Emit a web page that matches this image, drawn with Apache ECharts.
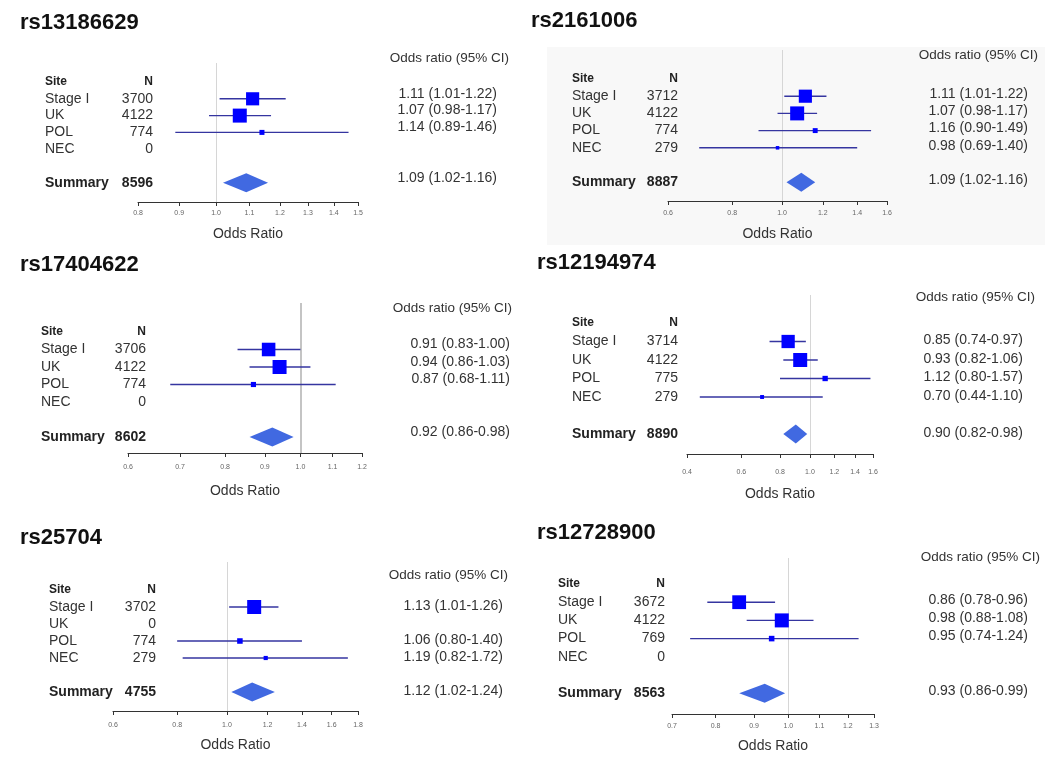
<!DOCTYPE html>
<html><head><meta charset="utf-8">
<script src="https://cdn.jsdelivr.net/npm/echarts@6/dist/echarts.min.js"></script>
<style>html,body{margin:0;padding:0;background:#fff}#c{width:1050px;height:768px}</style>
</head><body><div id="c"></div>
<script>
// ---------------- data ----------------
const snpTitles = ['rs13186629','rs2161006','rs17404622','rs12194974','rs25704','rs12728900'];
const siteNames = ['Stage I','UK','POL','NEC'];
const nValues = [
  [3700,4122,774,0],
  [3712,4122,774,279],
  [3706,4122,774,0],
  [3714,4122,775,279],
  [3702,0,774,279],
  [3672,4122,769,0]
];
const summaryN = [8596,8887,8602,8890,4755,8563];
const orValues = [
  [1.11,1.07,1.14,null],
  [1.11,1.07,1.16,0.98],
  [0.91,0.94,0.87,null],
  [0.85,0.93,1.12,0.70],
  [1.13,null,1.06,1.19],
  [0.86,0.98,0.95,null]
];
const ciLower = [
  [1.01,0.98,0.89,null],
  [1.01,0.98,0.90,0.69],
  [0.83,0.86,0.68,null],
  [0.74,0.82,0.80,0.44],
  [1.01,null,0.80,0.82],
  [0.78,0.88,0.74,null]
];
const ciUpper = [
  [1.22,1.17,1.46,null],
  [1.22,1.17,1.49,1.40],
  [1.00,1.03,1.11,null],
  [0.97,1.06,1.57,1.10],
  [1.26,null,1.40,1.72],
  [0.96,1.08,1.24,null]
];
const summaryOR = [1.09,1.09,0.92,0.90,1.12,0.93];
const summaryLower = [1.02,1.02,0.86,0.82,1.02,0.86];
const summaryUpper = [1.16,1.16,0.98,0.98,1.24,0.99];
const axisTicks = [
  [0.8,0.9,1.0,1.1,1.2,1.3,1.4,1.5],
  [0.6,0.8,1.0,1.2,1.4,1.6],
  [0.6,0.7,0.8,0.9,1.0,1.1,1.2],
  [0.4,0.6,0.8,1.0,1.2,1.4,1.6],
  [0.6,0.8,1.0,1.2,1.4,1.6,1.8],
  [0.7,0.8,0.9,1.0,1.1,1.2,1.3]
];

// ---------------- layout (pixels) ----------------
const layout = [
 {left:138,right:358,top:63,axisY:202,row0:82,step:16.8,titleX:20,titleY:24,siteX:45,nX:153,orX:497,orDy:-5,headX:509,headY:58,lblM:8,nameGap:25},
 {left:668,right:887,top:50,axisY:201,row0:79,step:17.2,titleX:531,titleY:22,siteX:572,nX:678,orX:1028,orDy:-2,headX:1038,headY:55,lblM:9,nameGap:26},
 {left:128,right:362,top:303,axisY:453,row0:332,step:17.5,titleX:20,titleY:266,siteX:41,nX:146,orX:510,orDy:-5,headX:512,headY:308,lblM:11,nameGap:31},
 {left:687,right:873,top:295,axisY:454,row0:323,step:18.5,titleX:537,titleY:264,siteX:572,nX:678,orX:1023,orDy:-1,headX:1035,headY:297,lblM:15,nameGap:33},
 {left:113,right:358,top:562,axisY:711,row0:590,step:17,titleX:20,titleY:539,siteX:49,nX:156,orX:503,orDy:-1,headX:508,headY:575,lblM:11,nameGap:27},
 {left:672,right:874,top:558,axisY:714,row0:584,step:18.2,titleX:537,titleY:534,siteX:558,nX:665,orX:1028,orDy:-2,headX:1040,headY:557,lblM:9,nameGap:25}
];

const FONT = '"Liberation Sans", Arial, sans-serif';
const SUMMARY_ROW = 6;
const MAX_BOX = 14;
const fmtCI = (o,l,h) => o.toFixed(2) + ' (' + l.toFixed(2) + '-' + h.toFixed(2) + ')';

const grids = [], xAxes = [], yAxes = [], series = [], graphics = [];

graphics.push({type:'rect', z:-10, shape:{x:547,y:47,width:498,height:198}, style:{fill:'#f8f8f8'}});

layout.forEach((L, p) => {
  const yMin = (L.top - L.row0) / L.step;
  const yMax = (L.axisY - L.row0) / L.step;
  grids.push({left:L.left, top:L.top, width:L.right-L.left, height:L.axisY-L.top});
  const tk = axisTicks[p];
  const lnTicks = tk.map(Math.log);
  xAxes.push({
    gridIndex:p, type:'value', min:Math.log(tk[0]), max:Math.log(tk[tk.length-1]),
    axisLine:{show:true, onZero:false, lineStyle:{color:'#333', width:1}},
    axisTick:{show:true, length:4, customValues:lnTicks, lineStyle:{color:'#333'}},
    axisLabel:{customValues:lnTicks, formatter:v => Math.exp(v).toFixed(1), fontSize:7, color:'#666', margin:L.lblM, fontFamily:FONT},
    splitLine:{show:false},
    name:'Odds Ratio', nameLocation:'middle', nameGap:L.nameGap,
    nameTextStyle:{fontSize:14, color:'#333', fontFamily:FONT}
  });
  yAxes.push({gridIndex:p, type:'value', inverse:true, min:yMin, max:yMax, show:false});

  // study rows
  const widths = [];
  for (let i=0;i<4;i++) if (orValues[p][i] != null) widths.push(Math.log(ciUpper[p][i]/ciLower[p][i]));
  const minW = Math.min(...widths);
  const studyData = [];
  for (let i=0;i<4;i++) {
    if (orValues[p][i] == null) continue;
    const w = Math.log(ciUpper[p][i]/ciLower[p][i]);
    studyData.push([i+1, Math.log(ciLower[p][i]), Math.log(orValues[p][i]), Math.log(ciUpper[p][i]), MAX_BOX*minW/w]);
  }
  series.push({
    type:'custom', xAxisIndex:p, yAxisIndex:p, encode:{x:[1,2,3], y:0}, silent:true, z:3,
    data:studyData,
    renderItem:(params, api) => {
      const row = api.value(0), sz = api.value(4);
      const a = api.coord([api.value(1), row]), e = api.coord([api.value(2), row]), b = api.coord([api.value(3), row]);
      return {type:'group', children:[
        {type:'line', shape:{x1:a[0],y1:a[1],x2:b[0],y2:b[1]}, style:{stroke:'#3535a0', lineWidth:1.4}},
        {type:'rect', shape:{x:e[0]-sz/2, y:e[1]-sz/2, width:sz, height:sz}, style:{fill:'#0000ff'}}
      ]};
    },
    markLine:{
      silent:true, symbol:['none','none'], label:{show:false}, z:1,
      lineStyle:{color: p===2 ? '#c4c4c4' : '#d6d6d6', width: p===2 ? 2 : 1, type:'solid'},
      data:[{xAxis:0}]
    }
  });

  // summary diamond
  series.push({
    type:'custom', xAxisIndex:p, yAxisIndex:p, encode:{x:[1,2,3], y:0}, silent:true, z:3,
    data:[[SUMMARY_ROW, Math.log(summaryLower[p]), Math.log(summaryOR[p]), Math.log(summaryUpper[p])]],
    renderItem:(params, api) => {
      const row = api.value(0);
      const a = api.coord([api.value(1), row]), e = api.coord([api.value(2), row]), b = api.coord([api.value(3), row]);
      const h = 9.5;
      return {type:'polygon', shape:{points:[[a[0],a[1]],[e[0],e[1]-h],[b[0],b[1]],[e[0],e[1]+h]]}, style:{fill:'#4169e1'}};
    }
  });

  // table text
  const tableData = [[0, 0, -2]];
  for (let i=0;i<4;i++) tableData.push([0, i+1, i]);
  tableData.push([0, SUMMARY_ROW, -1]);
  series.push({
    type:'custom', xAxisIndex:p, yAxisIndex:p, encode:{x:0, y:1}, silent:true, z:4,
    data:tableData,
    renderItem:(params, api) => {
      const row = api.value(1), k = api.value(2);
      const y = api.coord([0, row])[1];
      const ch = [];
      const txt = (x, yy, t, align, size, bold, color) => ch.push({type:'text', x:x, y:yy,
        style:{text:t, align:align, verticalAlign:'middle', fontSize:size, fontWeight:bold?'bold':'normal', fontFamily:FONT, fill:color}});
      if (k === -2) {
        txt(L.siteX, y, 'Site', 'left', 12, true, '#222');
        txt(L.nX, y, 'N', 'right', 12, true, '#222');
      } else if (k === -1) {
        txt(L.siteX, y, 'Summary', 'left', 14, true, '#222');
        txt(L.nX, y, String(summaryN[p]), 'right', 14, true, '#222');
        txt(L.orX, y + L.orDy, fmtCI(summaryOR[p], summaryLower[p], summaryUpper[p]), 'right', 14, false, '#333');
      } else {
        txt(L.siteX, y, siteNames[k], 'left', 14, false, '#333');
        txt(L.nX, y, String(nValues[p][k]), 'right', 14, false, '#333');
        if (orValues[p][k] != null)
          txt(L.orX, y + L.orDy, fmtCI(orValues[p][k], ciLower[p][k], ciUpper[p][k]), 'right', 14, false, '#333');
      }
      return {type:'group', children:ch};
    }
  });

  graphics.push({type:'text', left:L.titleX, top:L.titleY-12,
    style:{text:snpTitles[p], fontSize:22, fontWeight:'bold', fontFamily:FONT, fill:'#111'}});
  graphics.push({type:'text', x:L.headX, y:L.headY,
    style:{text:'Odds ratio (95% CI)', align:'right', verticalAlign:'middle', fontSize:13.5, fontFamily:FONT, fill:'#333'}});
});

const chart = echarts.init(document.getElementById('c'), null, {renderer:'canvas'});
chart.setOption({
  backgroundColor:'#ffffff',
  animation:false,
  grid:grids, xAxis:xAxes, yAxis:yAxes, series:series, graphic:graphics
});
</script>
</body></html>
